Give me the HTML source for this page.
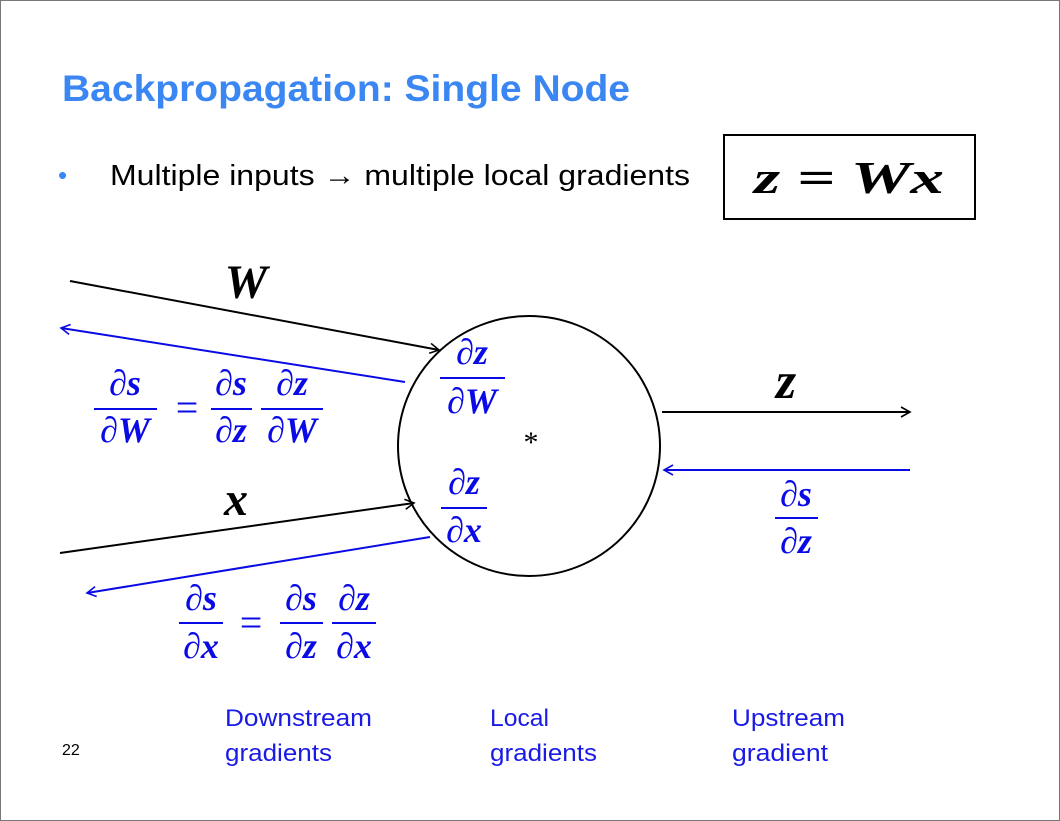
<!DOCTYPE html>
<html><head><style>
html,body{margin:0;padding:0;background:#fff;}
svg{display:block;}
.m{font-family:"Liberation Serif",serif;font-style:italic;font-weight:bold;}
.b{fill:#0a0ae6;}
.s{font-family:"Liberation Sans",sans-serif;}
</style></head><body>
<svg width="1060" height="821" viewBox="0 0 1060 821" xmlns="http://www.w3.org/2000/svg">
<defs>
<marker id="ak" markerWidth="12" markerHeight="12" refX="10" refY="6" orient="auto" markerUnits="userSpaceOnUse"><path d="M1,1 L10,6 L1,11" fill="none" stroke="#000" stroke-width="1.6"/></marker>
<marker id="ab" markerWidth="12" markerHeight="12" refX="10" refY="6" orient="auto" markerUnits="userSpaceOnUse"><path d="M1,1 L10,6 L1,11" fill="none" stroke="#0a0ae6" stroke-width="1.6"/></marker>
</defs>
<rect x="0.5" y="0.5" width="1059" height="820" fill="#fff" stroke="#777"/>
<text x="62" y="101" class="s" font-size="37" font-weight="bold" fill="#3a86f2" textLength="568" lengthAdjust="spacingAndGlyphs">Backpropagation: Single Node</text>
<text x="58" y="184" class="s" font-size="26" fill="#3a86f2">•</text>
<text x="110" y="185" class="s" font-size="29" fill="#000" textLength="580" lengthAdjust="spacingAndGlyphs">Multiple inputs → multiple local gradients</text>
<rect x="724" y="135" width="251" height="84" fill="none" stroke="#000" stroke-width="2"/>
<text x="849" y="193" class="m" font-size="46" text-anchor="middle" textLength="190" lengthAdjust="spacingAndGlyphs">z = Wx</text>

<ellipse cx="529" cy="446" rx="131" ry="130" fill="none" stroke="#000" stroke-width="2"/>
<line x1="70" y1="281" x2="439" y2="350" stroke="#000" stroke-width="2" marker-end="url(#ak)"/>
<line x1="405" y1="382" x2="61" y2="328" stroke="#0a0ae6" stroke-width="2" marker-end="url(#ab)"/>
<line x1="60" y1="553" x2="414" y2="503" stroke="#000" stroke-width="2" marker-end="url(#ak)"/>
<line x1="430" y1="537" x2="87" y2="593" stroke="#0a0ae6" stroke-width="2" marker-end="url(#ab)"/>
<line x1="662" y1="412" x2="910" y2="412" stroke="#000" stroke-width="2" marker-end="url(#ak)"/>
<line x1="910" y1="470" x2="664" y2="470" stroke="#0a0ae6" stroke-width="2" marker-end="url(#ab)"/>

<text x="246" y="298" class="m" font-size="48" text-anchor="middle">W</text>
<text x="236" y="515" class="m" font-size="48" text-anchor="middle">x</text>
<text x="786" y="398" class="m" font-size="52" text-anchor="middle">z</text>
<text x="531" y="452" font-family="Liberation Serif,serif" font-size="30" text-anchor="middle">*</text>

<g class="m b" font-size="36" text-anchor="middle">
<text x="472" y="364">∂z</text><rect x="440" y="377" width="65" height="2" class="b"/><text x="472" y="413">∂W</text>
<text x="464" y="494">∂z</text><rect x="441" y="507" width="46" height="2" class="b"/><text x="464" y="542">∂x</text>
<text x="796" y="506">∂s</text><rect x="775" y="517" width="43" height="2" class="b"/><text x="796" y="553">∂z</text>
<text x="125" y="395">∂s</text><rect x="94" y="408" width="63" height="2" class="b"/><text x="125" y="442">∂W</text>
<text x="187" y="421" font-style="normal" font-weight="normal" font-size="40">=</text>
<text x="231" y="395">∂s</text><rect x="211" y="408" width="41" height="2" class="b"/><text x="231" y="442">∂z</text>
<text x="292" y="395">∂z</text><rect x="261" y="408" width="62" height="2" class="b"/><text x="292" y="442">∂W</text>
<text x="201" y="610">∂s</text><rect x="179" y="622" width="44" height="2" class="b"/><text x="201" y="658">∂x</text>
<text x="251" y="636" font-style="normal" font-weight="normal" font-size="40">=</text>
<text x="301" y="610">∂s</text><rect x="280" y="622" width="43" height="2" class="b"/><text x="301" y="658">∂z</text>
<text x="354" y="610">∂z</text><rect x="332" y="622" width="44" height="2" class="b"/><text x="354" y="658">∂x</text>
</g>

<g class="s" font-size="24" fill="#1a1ae6">
<text x="225" y="726" textLength="147" lengthAdjust="spacingAndGlyphs">Downstream</text><text x="225" y="761" textLength="107" lengthAdjust="spacingAndGlyphs">gradients</text>
<text x="490" y="726" textLength="59" lengthAdjust="spacingAndGlyphs">Local</text><text x="490" y="761" textLength="107" lengthAdjust="spacingAndGlyphs">gradients</text>
<text x="732" y="726" textLength="113" lengthAdjust="spacingAndGlyphs">Upstream</text><text x="732" y="761" textLength="96" lengthAdjust="spacingAndGlyphs">gradient</text>
</g>
<text x="62" y="755" class="s" font-size="16" fill="#000">22</text>
</svg>
</body></html>
